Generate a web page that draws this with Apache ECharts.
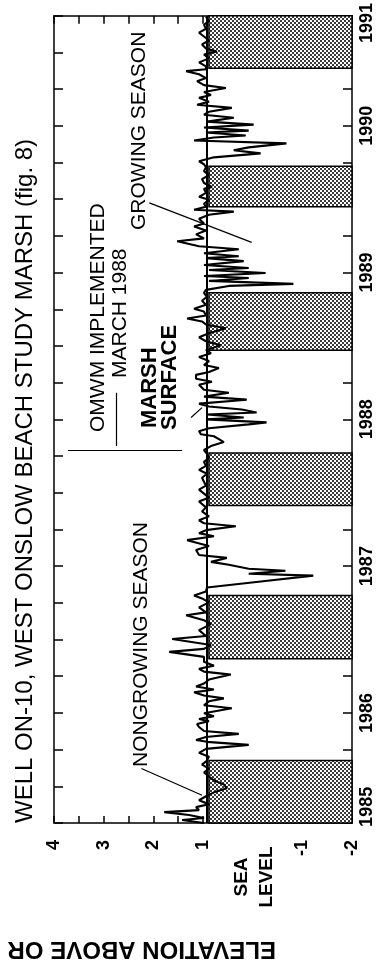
<!DOCTYPE html>
<html>
<head>
<meta charset="utf-8">
<script src="https://cdn.jsdelivr.net/npm/echarts@6/dist/echarts.min.js"></script>
<style>
  html, body { margin: 0; padding: 0; background: #fff; }
  #chart { width: 376px; height: 961px; }
</style>
</head>
<body>
<div id="chart"></div>
<script>
// water level in well ON-10, feet relative to sea level, by decimal year
var winter1985 = [[0.98, 1985.750], [1.42, 1985.770], [0.98, 1985.784], [1.28, 1985.804], [1.78, 1985.824], [1.08, 1985.838],
  [1.14, 1985.858], [0.88, 1985.878], [1.08, 1985.905], [0.94, 1985.932], [0.78, 1985.959], [0.52, 1985.986], [0.58, 1986.013],
  [0.78, 1986.040], [0.88, 1986.067], [0.98, 1986.094], [0.88, 1986.121], [1.02, 1986.148], [0.92, 1986.175]];
var summer1986 = [[0.88, 1986.202], [1.08, 1986.228], [0.94, 1986.255], [0.08, 1986.282], [0.92, 1986.303], [1.14, 1986.316],
  [0.94, 1986.336], [0.28, 1986.357], [0.98, 1986.377], [1.08, 1986.404], [1.12, 1986.424], [0.88, 1986.444], [1.08, 1986.458],
  [0.78, 1986.478], [0.98, 1986.498], [0.42, 1986.532], [0.98, 1986.552], [0.88, 1986.579], [0.58, 1986.599], [0.98, 1986.619],
  [1.18, 1986.640], [0.78, 1986.660], [1.14, 1986.680], [0.98, 1986.700], [0.88, 1986.727], [0.44, 1986.761], [0.98, 1986.781],
  [1.08, 1986.801], [0.78, 1986.822], [0.98, 1986.848]];
var winter1986 = [[0.98, 1986.882], [1.68, 1986.916], [0.98, 1986.936], [0.84, 1986.963], [1.62, 1987.003], [0.94, 1987.024],
  [1.08, 1987.064], [0.84, 1987.105], [0.98, 1987.131], [1.34, 1987.165], [0.94, 1987.185], [1.08, 1987.219], [0.88, 1987.253],
  [1.02, 1987.280], [1.18, 1987.300], [0.94, 1987.327]];
var summer1987 = [[0.92, 1987.354], [-0.12, 1987.394], [-1.22, 1987.435], [0.08, 1987.448], [-0.66, 1987.468], [0.08, 1987.482],
  [0.48, 1987.509], [0.84, 1987.529], [0.52, 1987.556], [1.08, 1987.576], [1.14, 1987.610], [0.88, 1987.637], [1.32, 1987.677],
  [0.78, 1987.704], [1.08, 1987.725], [0.94, 1987.745], [0.34, 1987.772], [0.98, 1987.792], [1.08, 1987.812], [0.88, 1987.839],
  [1.02, 1987.873], [0.94, 1987.900]];
var winter1987 = [[0.94, 1987.913], [1.08, 1987.940], [0.88, 1987.967], [0.98, 1987.994], [1.08, 1988.021], [0.94, 1988.048],
  [0.98, 1988.075], [1.02, 1988.102], [0.92, 1988.129], [1.08, 1988.156], [0.94, 1988.183], [0.98, 1988.210], [0.88, 1988.237],
  [0.92, 1988.264]];
var summer1988 = [[0.98, 1988.291], [0.84, 1988.318], [0.58, 1988.345], [0.68, 1988.365], [0.78, 1988.385], [1.04, 1988.398],
  [1.08, 1988.419], [0.88, 1988.439], [0.08, 1988.466], [-0.28, 1988.479], [0.94, 1988.500], [0.18, 1988.513], [0.92, 1988.533],
  [-0.08, 1988.547], [0.22, 1988.567], [0.88, 1988.587], [1.08, 1988.607], [0.12, 1988.634], [0.98, 1988.655], [0.48, 1988.681],
  [0.98, 1988.702], [1.08, 1988.735], [0.82, 1988.756], [1.14, 1988.776], [1.14, 1988.803], [0.88, 1988.823], [0.68, 1988.850],
  [0.98, 1988.870], [0.88, 1988.897], [1.08, 1988.924], [0.84, 1988.951]];
var winter1988 = [[0.94, 1988.971], [0.64, 1989.005], [0.94, 1989.032], [1.08, 1989.059], [0.88, 1989.086], [0.54, 1989.120],
  [0.94, 1989.146], [1.02, 1989.167], [1.32, 1989.187], [0.94, 1989.207], [0.98, 1989.234], [1.18, 1989.254], [0.94, 1989.281],
  [1.02, 1989.308], [0.92, 1989.335], [0.98, 1989.362]];
var summer1989 = [[0.94, 1989.382], [0.48, 1989.409], [-0.82, 1989.423], [0.88, 1989.443], [0.08, 1989.463], [0.98, 1989.477],
  [-0.26, 1989.497], [0.88, 1989.517], [0.08, 1989.531], [0.98, 1989.551], [0.18, 1989.578], [0.94, 1989.598], [0.28, 1989.611],
  [0.98, 1989.632], [0.28, 1989.659], [1.08, 1989.679], [1.52, 1989.713], [0.98, 1989.733], [1.14, 1989.760], [0.94, 1989.787],
  [1.18, 1989.814], [0.98, 1989.834], [1.08, 1989.867], [0.88, 1989.894], [0.38, 1989.915], [1.18, 1989.928], [0.94, 1989.948]];
var winter1989 = [[0.98, 1989.969], [0.88, 1989.996], [1.08, 1990.016], [0.94, 1990.043], [0.98, 1990.070], [0.82, 1990.083],
  [0.98, 1990.110], [1.02, 1990.137], [0.88, 1990.164], [0.98, 1990.191], [0.94, 1990.218]];
var summer1990 = [[0.98, 1990.238], [1.08, 1990.258], [0.78, 1990.285], [-0.16, 1990.312], [0.38, 1990.333], [0.08, 1990.353],
  [-0.68, 1990.380], [1.18, 1990.400], [0.78, 1990.420], [0.14, 1990.434], [0.94, 1990.454], [0.08, 1990.467], [0.98, 1990.488],
  [-0.02, 1990.508], [0.92, 1990.528], [0.38, 1990.555], [0.98, 1990.575], [0.88, 1990.595], [0.42, 1990.622], [1.12, 1990.643],
  [0.88, 1990.663], [1.08, 1990.690], [0.84, 1990.710], [0.98, 1990.730], [0.54, 1990.757], [0.98, 1990.777], [1.12, 1990.804],
  [0.94, 1990.825], [1.08, 1990.851], [1.34, 1990.872], [0.94, 1990.885]];
var winter1990 = [[0.94, 1990.905], [1.08, 1990.932], [0.88, 1990.959], [0.98, 1990.986], [0.72, 1991.006], [0.94, 1991.027],
  [1.02, 1991.054], [0.88, 1991.081], [0.98, 1991.108], [1.08, 1991.134], [0.94, 1991.161], [0.98, 1991.188], [0.88, 1991.215],
  [0.94, 1991.242]];

// nongrowing seasons (shaded)
var nongrowStart = [1985.75, 1986.869, 1987.913, 1988.971, 1989.948, 1990.892];
var nongrowEnd = [1986.175, 1987.300, 1988.270, 1989.362, 1990.225, 1991.25];
var shadeTop = 0.88;

var marshSurface = 0.92;
var omwmDate = 1988.29;

var elevLabels = [4, 3, 2, 1, -1, -2];
var seaLevel = 0;
var yearLabelAt = [1985.86, 1986.5, 1987.5, 1988.5, 1989.5, 1990.5, 1991.2];
var yearTicks = [1986, 1987, 1988, 1989, 1990, 1991];

var wellLevels = [].concat(winter1985, summer1986, winter1986, summer1987, winter1987,
  summer1988, winter1988, summer1989, winter1989, summer1990, winter1990);

// dotted screen used for the nongrowing season boxes
var pat = document.createElement('canvas');
pat.width = 4; pat.height = 4;
var pctx = pat.getContext('2d');
pctx.fillStyle = '#fff';
pctx.fillRect(0, 0, 4, 4);
pctx.fillStyle = '#3a3a3a';
pctx.fillRect(0, 0, 2, 2);
pctx.fillRect(2, 2, 2, 2);

var seasons = nongrowStart.map(function (s, i) {
  return [{ coord: [shadeTop, s] }, { coord: [-2, nongrowEnd[i]] }];
});

var FONT = '"Liberation Sans", Arial, Helvetica, sans-serif';

function rotText(txt, x, y, size, weight, rot, align) {
  return {
    type: 'text', x: x, y: y, rotation: rot,
    style: {
      text: txt, fill: '#000',
      font: (weight || 'normal') + ' ' + size + 'px ' + FONT,
      align: align || 'left', textAlign: align || 'left',
      verticalAlign: 'middle', textVerticalAlign: 'middle'
    }
  };
}

var chart = echarts.init(document.getElementById('chart'));

var axisBase = {
  type: 'value',
  axisLine: { show: true, onZero: false, lineStyle: { color: '#000', width: 1.5 } },
  splitLine: { show: false }
};

var option = {
  animation: false,
  backgroundColor: '#fff',
  grid: { left: 54, right: 22, top: 7, bottom: 138 },
  xAxis: [
    Object.assign({}, axisBase, {
      position: 'bottom', min: -2, max: 4, interval: 0.5, inverse: true,
      axisTick: { inside: true, length: 7, lineStyle: { color: '#000', width: 1.5 } },
      axisLabel: { show: false }
    }),
    Object.assign({}, axisBase, {
      position: 'top', min: -2, max: 4, interval: 0.5, inverse: true,
      axisTick: { inside: true, length: 8, lineStyle: { color: '#000', width: 1.5 } },
      axisLabel: { show: false }
    })
  ],
  yAxis: [
    Object.assign({}, axisBase, {
      position: 'left', min: 1985.75, max: 1991.25, interval: 0.25,
      axisTick: { inside: true, length: 9, lineStyle: { color: '#000', width: 1.5 } },
      axisLabel: { show: false }
    }),
    Object.assign({}, axisBase, {
      position: 'left', min: 1985.75, max: 1991.25, interval: 0.25,
      axisLine: { show: false },
      axisTick: { inside: true, length: 17, customValues: yearTicks, lineStyle: { color: '#000', width: 1.5 } },
      axisLabel: { show: false }
    }),
    Object.assign({}, axisBase, {
      position: 'right', min: 1985.75, max: 1991.25, interval: 0.25,
      axisTick: { inside: true, length: 9, lineStyle: { color: '#000', width: 1.5 } },
      axisLabel: {
        customValues: yearLabelAt, rotate: 90, margin: 6,
        color: '#000', fontFamily: FONT, fontSize: 18, fontWeight: 'bold',
        formatter: function (v) { return String(Math.floor(v)); }
      }
    })
  ],
  series: [{
    type: 'line',
    xAxisIndex: 0,
    yAxisIndex: 0,
    data: wellLevels,
    symbol: 'none',
    lineStyle: { color: '#000', width: 2.1 },
    z: 5,
    markArea: {
      silent: true,
      itemStyle: { color: { image: pat, repeat: 'repeat' }, borderColor: '#000', borderWidth: 1.5 },
      data: seasons
    },
    markLine: {
      silent: true,
      symbol: 'none',
      label: { show: false },
      lineStyle: { color: '#000', type: 'solid', width: 1.2 },
      data: [
        { xAxis: marshSurface, lineStyle: { width: 2 } },
        [{ coord: [3.72, omwmDate] }, { coord: [1.42, omwmDate] }],
        [{ coord: [2.74, 1988.318] }, { coord: [2.74, 1988.681] }],
        [{ coord: [2.24, 1986.121] }, { coord: [1.02, 1985.939] }],
        [{ coord: [2.08, 1989.975] }, { coord: [0.02, 1989.706] }],
        [{ coord: [1.24, 1988.513] }, { coord: [1.02, 1988.580] }]
      ]
    }
  }]
};

chart.setOption(option);

// elevation tick labels, placed on the elevation scale below the frame
var frameBottom = chart.convertToPixel({ yAxisIndex: 0 }, 1985.75);
var labelEnd = frameBottom + 17;
var texts = [
  rotText('WELL ON-10, WEST ONSLOW BEACH STUDY MARSH (fig. 8)', 25, 823, 24, 'normal', Math.PI / 2),
  rotText('NONGROWING SEASON', 141, 767, 21, 'normal', Math.PI / 2),
  rotText('GROWING SEASON', 139, 230, 21, 'normal', Math.PI / 2),
  rotText('OMWM IMPLEMENTED', 98, 432, 21, 'normal', Math.PI / 2),
  rotText('MARCH 1988', 120, 378, 21, 'normal', Math.PI / 2),
  rotText('MARSH', 150, 428, 22, 'bold', Math.PI / 2),
  rotText('SURFACE', 170, 430, 22, 'bold', Math.PI / 2),
  rotText('ELEVATION ABOVE OR', 276, 949, 24, 'bold', Math.PI)
];
elevLabels.forEach(function (v) {
  var x = chart.convertToPixel({ xAxisIndex: 0 }, v);
  texts.push(rotText(String(v), x, labelEnd, 18, 'bold', Math.PI / 2, 'right'));
});
var seaX = chart.convertToPixel({ xAxisIndex: 0 }, seaLevel);
texts.push(rotText('SEA', seaX - 11, labelEnd + 37, 19, 'bold', Math.PI / 2, 'center'));
texts.push(rotText('LEVEL', seaX + 14, labelEnd + 37, 19, 'bold', Math.PI / 2, 'center'));

chart.setOption({ graphic: texts });
</script>
</body>
</html>
